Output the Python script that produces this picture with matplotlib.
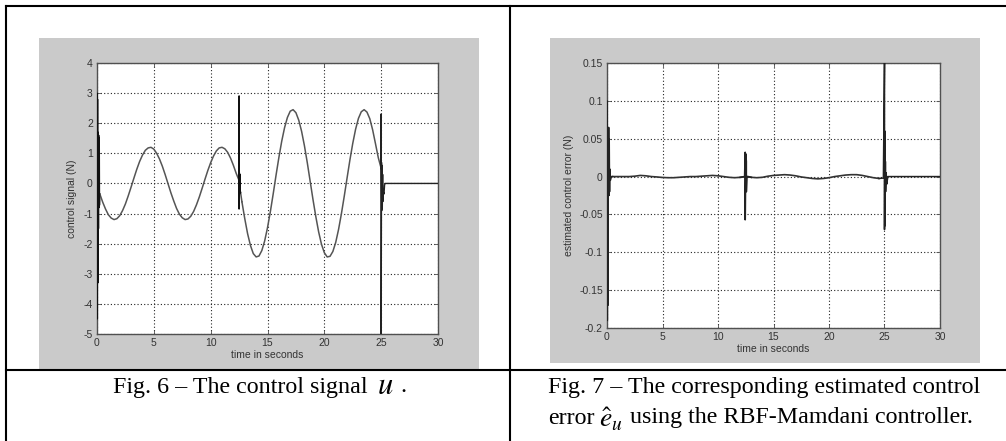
import numpy as np
import matplotlib
matplotlib.use("Agg")
import matplotlib.pyplot as plt
from matplotlib.lines import Line2D
from matplotlib.patches import Rectangle

plt.rcParams['axes.unicode_minus'] = False
plt.rcParams['mathtext.fontset'] = 'stix'

W, H = 1006, 441

# ---------------- data: Fig. 6 control signal u ----------------
u_start_t = [0.0, 0.0, 0.03, 0.05, 0.08, 0.10, 0.13, 0.15, 0.18, 0.20, 0.22]
u_start_v = [0.0, 3.0, -4.5, 2.8, -3.3, 1.7, -1.5, 1.6, -0.8, 1.5, -0.7]

u_a_t = np.arange(0.25, 12.51, 0.25)
u_a_v = [-0.35, -0.62, -0.85, -1.04, -1.15, -1.20, -1.17, -1.07, -0.90, -0.68,
         -0.41, -0.12, 0.18, 0.47, 0.73, 0.94, 1.10, 1.18, 1.20, 1.14,
         1.00, 0.81, 0.57, 0.29, -0.01, -0.31, -0.58, -0.83, -1.02, -1.14,
         -1.20, -1.18, -1.09, -0.93, -0.71, -0.45, -0.16, 0.14, 0.43, 0.69,
         0.91, 1.08, 1.18, 1.20, 1.15, 1.03, 0.84, 0.60, 0.33, 0.10]

u_mid_t = [12.5, 12.5, 12.5, 12.53, 12.55, 12.58, 12.60, 12.63]
u_mid_v = [0.10, 2.9, -0.85, 0.35, -0.35, 0.30, -0.30, -0.30]

u_b_t = np.arange(12.75, 25.01, 0.25)
u_b_v = [-0.61, -1.17, -1.67, -2.06, -2.33, -2.44, -2.41, -2.23, -1.91, -1.47,
         -0.94, -0.35, 0.27, 0.86, 1.40, 1.85, 2.19, 2.40, 2.45, 2.35,
         2.10, 1.73, 1.25, 0.69, 0.08, -0.53, -1.10, -1.61, -2.02, -2.30,
         -2.44, -2.42, -2.26, -1.96, -1.53, -1.01, -0.43, 0.18, 0.78, 1.33,
         1.80, 2.16, 2.38, 2.45, 2.37, 2.15, 1.78, 1.32, 0.85, 0.50]

u_end_t = [25.0, 25.0, 25.03, 25.05, 25.08, 25.10, 25.13, 25.15, 25.20, 25.25, 25.30, 25.35, 30.0]
u_end_v = [2.3, -5.0, 0.7, -0.9, 0.6, -0.8, 0.3, -0.6, -0.3, -0.35, -0.05, 0.0, 0.0]

u_yticks = [-5, -4, -3, -2, -1, 0, 1, 2, 3, 4]
x_ticks = [0, 5, 10, 15, 20, 25, 30]

# ---------------- data: Fig. 7 estimated control error ----------------
e_base_t = np.arange(0.5, 24.51, 0.5)
e_base_v = [0.0, 0.0, 0.0, 0.0, 0.0005, 0.0015, 0.001, 0.0, -0.0005, -0.0012,
            -0.0015, -0.0015, -0.001, -0.0005, 0.0, 0.0, 0.0005, 0.001, 0.0015, 0.001,
            0.0, -0.001, -0.0015, -0.001, 0.0, -0.001, -0.0015, -0.001, 0.0005, 0.0015,
            0.002, 0.0025, 0.002, 0.001, -0.0005, -0.0015, -0.0025, -0.003, -0.0025, -0.0015,
            0.0, 0.001, 0.002, 0.0025, 0.0025, 0.0015, 0.0, -0.0015, -0.0025]

e_start_t = [0.0, 0.0, 0.03, 0.05, 0.08, 0.10, 0.13, 0.15, 0.18, 0.20, 0.23, 0.25, 0.30, 0.40]
e_start_v = [0.0, 0.10, -0.19, 0.065, -0.17, 0.06, -0.02, 0.065, -0.025, 0.05, -0.02, 0.01, -0.005, 0.0]

e_mid_t = [12.40, 12.45, 12.45, 12.50, 12.55, 12.55, 12.60, 12.70]
e_mid_v = [0.0, 0.032, -0.057, 0.03, 0.02, -0.02, 0.0, 0.0]

e_end_t = [24.90, 25.0, 25.0, 25.03, 25.05, 25.08, 25.10, 25.15, 25.20, 25.30, 30.0]
e_end_v = [-0.002, 0.15, -0.07, 0.06, -0.065, 0.02, -0.02, 0.005, -0.01, 0.0, 0.0]

e_yticks = [-0.2, -0.15, -0.1, -0.05, 0, 0.05, 0.1, 0.15]
e_ylabels = ['-0.2', '-0.15', '-0.1', '-0.05', '0', '0.05', '0.1', '0.15']

# ---------------- figure ----------------
fig = plt.figure(figsize=(W / 100, H / 100), dpi=100)
fig.patch.set_facecolor('white')


def fx(px):
    return px / W


def fy(py):
    return 1 - py / H


GREY = '#cacaca'
fig.add_artist(Rectangle((fx(39), fy(370)), fx(440), 332 / H, transform=fig.transFigure,
                         facecolor=GREY, edgecolor='none', zorder=0))
fig.add_artist(Rectangle((fx(550), fy(363)), fx(430), 325 / H, transform=fig.transFigure,
                         facecolor=GREY, edgecolor='none', zorder=0))

for (x0, y0, x1, y1) in [(6, 6, 1006, 6), (6, 6, 6, 441), (510, 6, 510, 441), (6, 370, 1006, 370)]:
    fig.add_artist(Line2D([fx(x0), fx(x1)], [fy(y0), fy(y1)], transform=fig.transFigure,
                          color='black', lw=1.5, zorder=5))

TXT = '#333333'
SANS = ['Liberation Sans', 'DejaVu Sans']


def style_axes(ax):
    ax.set_facecolor('white')
    for s in ax.spines.values():
        s.set_color('#505050')
        s.set_linewidth(1.0)
    ax.tick_params(direction='in', length=3, width=0.6, colors='#505050',
                   top=True, right=True, labelsize=7.5, labelcolor=TXT, pad=3)
    for lab in ax.get_xticklabels() + ax.get_yticklabels():
        lab.set_family(SANS)
    ax.grid(True, color='#222222', linestyle=(0, (1, 2)), linewidth=0.8)
    ax.set_axisbelow(True)


ax1 = fig.add_axes([fx(97), fy(334), fx(341), 271 / H])
ax1.plot(u_a_t, u_a_v, color='#555555', lw=1.1, zorder=3)
ax1.plot(u_b_t, u_b_v, color='#555555', lw=1.1, zorder=3)
ax1.plot(u_start_t, u_start_v, color='#111111', lw=1.0, zorder=4)
ax1.plot([u_start_t[-1], u_a_t[0]], [u_start_v[-1], u_a_v[0]], color='#555555', lw=1.1, zorder=3)
ax1.plot(u_mid_t, u_mid_v, color='#111111', lw=1.0, zorder=4)
ax1.plot([u_a_t[-1], u_mid_t[0]], [u_a_v[-1], u_mid_v[0]], color='#555555', lw=1.1)
ax1.plot([u_mid_t[-1], u_b_t[0]], [u_mid_v[-1], u_b_v[0]], color='#555555', lw=1.1)
ax1.plot([u_b_t[-1]] + u_end_t, [u_b_v[-1]] + u_end_v, color='#222222', lw=1.0, zorder=4)
ax1.set_xlim(0, 30)
ax1.set_ylim(-5, 4)
ax1.set_xticks(x_ticks)
ax1.set_yticks(u_yticks)
ax1.set_yticklabels([str(v) for v in u_yticks])
style_axes(ax1)
ax1.set_xlabel('time in seconds', fontsize=7.5, color=TXT, family=SANS, labelpad=1)
ax1.set_ylabel('control signal (N)', fontsize=7.5, color=TXT, family=SANS, labelpad=5)

ax2 = fig.add_axes([fx(607), fy(328), fx(333), 265 / H])
ax2.plot(e_base_t, e_base_v, color='#333333', lw=1.2, zorder=3)
ax2.plot(e_start_t + [e_base_t[0]], e_start_v + [e_base_v[0]], color='#222222', lw=1.1, zorder=4)
ax2.plot([12.0] + e_mid_t + [13.0], [-0.001] + e_mid_v + [-0.001], color='#222222', lw=1.2, zorder=4)
ax2.plot([e_base_t[-1]] + e_end_t, [e_base_v[-1]] + e_end_v, color='#222222', lw=1.1, zorder=4)
ax2.set_xlim(0, 30)
ax2.set_ylim(-0.2, 0.15)
ax2.set_xticks(x_ticks)
ax2.set_yticks(e_yticks)
ax2.set_yticklabels(e_ylabels)
style_axes(ax2)
ax2.set_xlabel('time in seconds', fontsize=7.5, color=TXT, family=SANS, labelpad=1)
ax2.set_ylabel('estimated control error (N)', fontsize=7.5, color=TXT, family=SANS, labelpad=4)

# captions
SERIF = ['Liberation Serif', 'DejaVu Serif']
CS = 17.3
fig.text(fx(113), fy(387), 'Fig. 6 – The control signal', fontsize=CS,
         family=SERIF, ha='left', va='center', color='black')
fig.text(fx(385), fy(386), r'$u$', fontsize=22, ha='center', va='center', color='black')
fig.text(fx(400), fy(387), '.', fontsize=CS, family=SERIF, ha='left', va='center', color='black')
fig.text(fx(548), fy(387), 'Fig. 7 – The corresponding estimated control', fontsize=CS,
         family=SERIF, ha='left', va='center', color='black')
fig.text(fx(548), fy(418), 'error', fontsize=CS, family=SERIF, ha='left', va='center', color='black')
fig.text(fx(611), fy(419), r'$\hat{e}_u$', fontsize=20, ha='center', va='center', color='black')
fig.text(fx(630), fy(418), 'using the RBF-Mamdani controller.', fontsize=CS,
         family=SERIF, ha='left', va='center', color='black')

fig.savefig('out.png', dpi=100)
